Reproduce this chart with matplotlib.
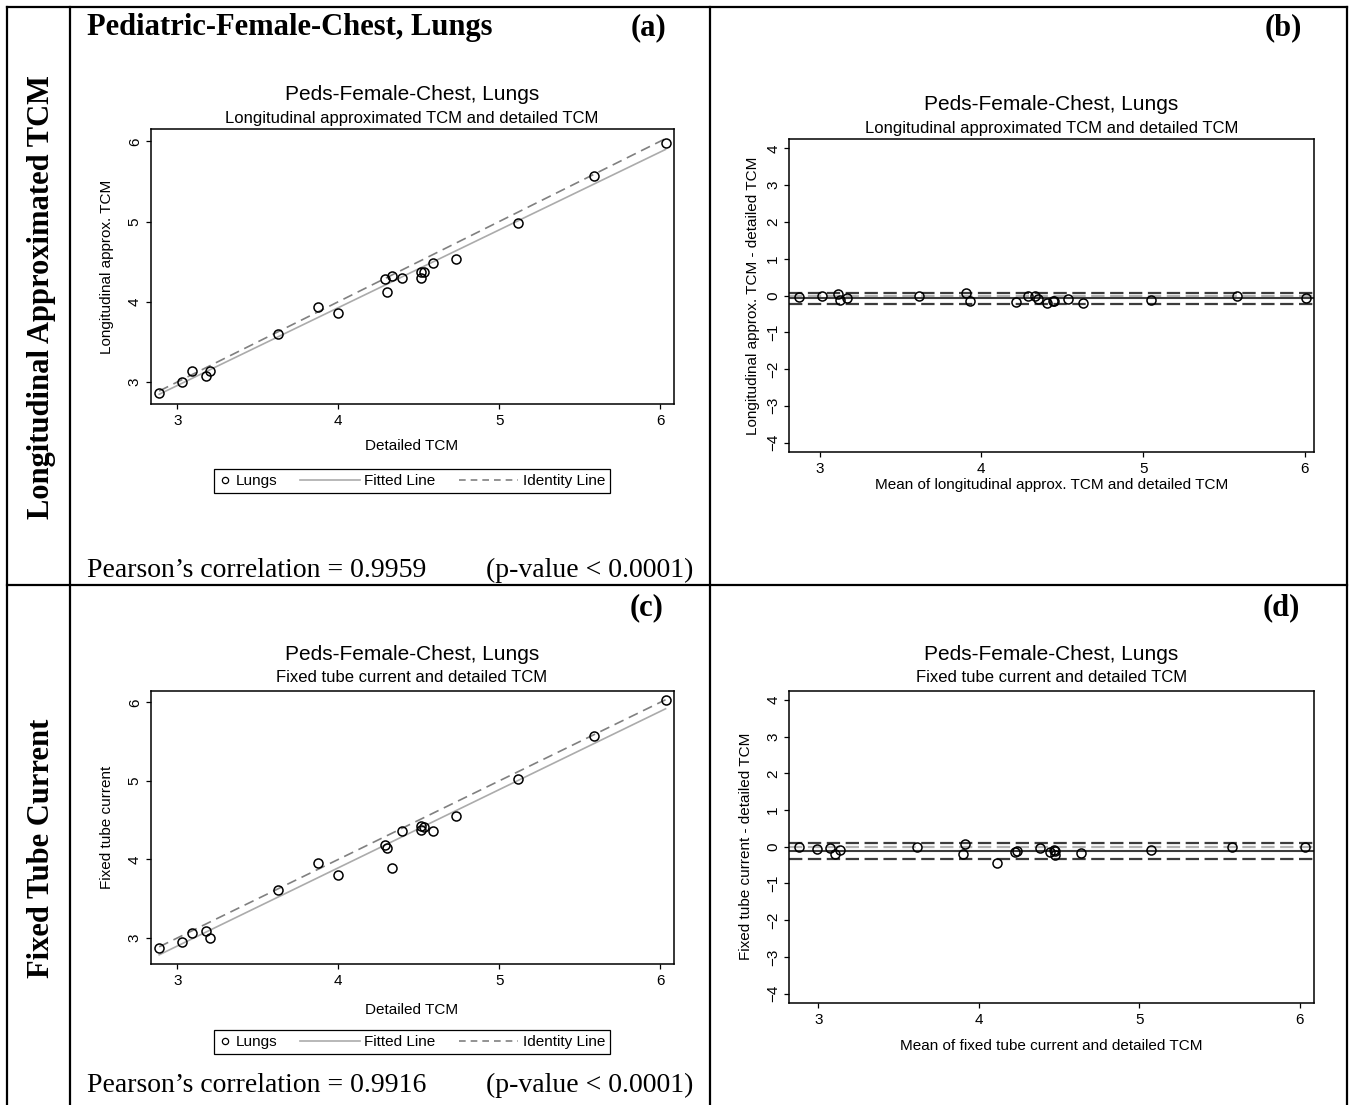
import matplotlib
matplotlib.use("Agg")
import matplotlib.pyplot as plt
import numpy as np
from matplotlib.lines import Line2D
from matplotlib.legend_handler import HandlerLine2D

W, H = 1351, 1105

# values
detailed_tcm = [2.888, 3.029, 3.090, 3.181, 3.202, 3.624, 3.876, 4.000, 4.293, 4.305,
                4.336, 4.398, 4.514, 4.514, 4.531, 4.586, 4.729, 5.119, 5.588, 6.033]
longitudinal_tcm = [2.859, 3.004, 3.141, 3.071, 3.141, 3.603, 3.940, 3.861, 4.281, 4.127,
                    4.322, 4.301, 4.301, 4.368, 4.372, 4.489, 4.530, 4.983, 5.570, 5.977]
fixed_tube = [2.873, 2.953, 3.059, 3.093, 3.004, 3.611, 3.951, 3.798, 4.184, 4.150,
              3.887, 4.362, 4.375, 4.426, 4.417, 4.362, 4.549, 5.025, 5.571, 6.034]

xticks = [3, 4, 5, 6]
ba_yticks = [-4, -3, -2, -1, 0, 1, 2, 3, 4]

SANS = 'Liberation Sans'
SERIF = 'Liberation Serif'
plt.rcParams['font.family'] = SANS
plt.rcParams['axes.linewidth'] = 1.1


def fx(x):
    return x / W


def fy(y):
    return 1 - y / H


def px_box(l, t, r, b):
    return [l / W, 1 - b / H, (r - l) / W, (b - t) / H]


class LongLine(HandlerLine2D):
    # line sample reaching left into the column gap, like Stata's legend
    def get_xdata(self, legend, xdescent, ydescent, width, height, fontsize):
        xdata = np.array([-xdescent - 3.1 * fontsize, -xdescent + width])
        return xdata, xdata[-1:]


def style_axes(ax):
    ax.tick_params(direction='out', length=3.8, width=0.9, labelsize=11, pad=3.5)
    ax.tick_params(axis='y', labelrotation=90, pad=2.5)
    for lab in ax.get_yticklabels():
        lab.set_va('center')


fig = plt.figure(figsize=(W / 100, H / 100), dpi=100)

# table grid
def hline(y, x0, x1):
    fig.add_artist(Line2D([fx(x0), fx(x1)], [fy(y), fy(y)], color='black', lw=1.6))


def vline(x, y0, y1):
    fig.add_artist(Line2D([fx(x), fx(x)], [fy(y0), fy(y1)], color='black', lw=1.6))


hline(7, 7, 1347)
hline(585, 7, 1347)
vline(7, 7, 1105)
vline(70, 7, 1105)
vline(710, 7, 1105)
vline(1347, 7, 1105)


def scatter_panel(box, yvals, ylim, ylabel, subtitle, title_y, xlab_y, leg_y):
    ax = fig.add_axes(px_box(*box))
    x = np.array(detailed_tcm)
    y = np.array(yvals)
    slope, icpt = np.polyfit(x, y, 1)
    xs = np.array([x.min(), x.max()])
    ax.plot(xs, icpt + slope * xs, color='#ababab', lw=1.2, zorder=2)
    ax.plot(xs, xs, color='#808080', lw=1.2, ls=(0, (6, 3.5)), zorder=2)
    ax.plot(x, y, 'o', mfc='none', mec='black', ms=6.5, mew=1.1, zorder=3)
    ax.set_xlim(2.834, 6.083)
    ax.set_ylim(*ylim)
    ax.set_xticks(xticks)
    ax.set_yticks(xticks)
    style_axes(ax)
    cx = (box[0] + box[2]) / 2
    fig.text(fx(cx), fy(title_y), 'Peds-Female-Chest, Lungs', ha='center', va='center', fontsize=15)
    fig.text(fx(cx), fy(title_y + 24), subtitle, ha='center', va='center', fontsize=12)
    fig.text(fx(cx), fy(xlab_y), 'Detailed TCM', ha='center', va='center', fontsize=11)
    fig.text(fx(107), fy((box[1] + box[3]) / 2), ylabel, ha='center', va='center',
             rotation=90, fontsize=11)
    h_pts = Line2D([], [], marker='o', ls='none', mfc='none', mec='black', ms=4.5, mew=0.9)
    h_fit = Line2D([], [], color='#ababab', lw=1.2)
    h_id = Line2D([], [], color='#808080', lw=1.2, ls=(0, (4, 3)))
    ax.legend([h_pts, h_fit, h_id], ['Lungs', 'Fitted Line', 'Identity Line'],
              loc='center', bbox_to_anchor=(fx(412), fy(leg_y)), bbox_transform=fig.transFigure,
              ncol=3, fontsize=11, frameon=True, fancybox=False, edgecolor='black',
              framealpha=1, handlelength=0.8, handletextpad=0.3, columnspacing=4.6,
              borderpad=0.35, numpoints=1,
              handler_map={h_fit: LongLine(), h_id: LongLine()}).get_frame().set_linewidth(0.9)
    return ax


def ba_panel(box, yvals, xlim, ylabel, xlabel, subtitle, title_y, xlab_y, ylab_x):
    ax = fig.add_axes(px_box(*box))
    a = np.array(yvals)
    d = np.array(detailed_tcm)
    mean = (a + d) / 2
    diff = a - d
    md = diff.mean()
    sd = diff.std(ddof=1)
    dash = (0, (6, 2.5))
    ax.axhline(md + 1.96 * sd, color='#3c3c3c', lw=1.6, ls=dash, zorder=2)
    ax.axhline(0, color='#b4b4b4', lw=1.6, ls=dash, zorder=2)
    ax.axhline(md, color='#3c3c3c', lw=1.5, zorder=2)
    ax.axhline(md - 1.96 * sd, color='#3c3c3c', lw=1.6, ls=dash, zorder=2)
    ax.plot(mean, diff, 'o', mfc='none', mec='black', ms=6.5, mew=1.1, zorder=3)
    ax.set_xlim(*xlim)
    ax.set_ylim(-4.25, 4.25)
    ax.set_xticks(xticks)
    ax.set_yticks(ba_yticks)
    style_axes(ax)
    cx = (box[0] + box[2]) / 2
    fig.text(fx(cx), fy(title_y), 'Peds-Female-Chest, Lungs', ha='center', va='center', fontsize=15)
    fig.text(fx(cx), fy(title_y + 24), subtitle, ha='center', va='center', fontsize=12)
    fig.text(fx(cx), fy(xlab_y), xlabel, ha='center', va='center', fontsize=11)
    fig.text(fx(ylab_x), fy((box[1] + box[3]) / 2), ylabel, ha='center', va='center',
             rotation=90, fontsize=11)
    return ax


# (a) longitudinal approx vs detailed
scatter_panel((150.5, 129, 673.6, 404), longitudinal_tcm, (2.726, 6.153),
              'Longitudinal approx. TCM', 'Longitudinal approximated TCM and detailed TCM',
              94, 446, 481)
# (c) fixed tube current vs detailed
scatter_panel((150.5, 690.7, 673.6, 964), fixed_tube, (2.669, 6.148),
              'Fixed tube current', 'Fixed tube current and detailed TCM',
              654, 1010, 1042)
# (b) Bland-Altman, longitudinal
ba_panel((789, 139.3, 1314, 451.7), longitudinal_tcm, (2.811, 6.056),
         'Longitudinal approx. TCM - detailed TCM',
         'Mean of longitudinal approx. TCM and detailed TCM',
         'Longitudinal approximated TCM and detailed TCM', 104, 485, 753)
# (d) Bland-Altman, fixed
ba_panel((789, 690.7, 1314, 1002.7), fixed_tube, (2.817, 6.088),
         'Fixed tube current - detailed TCM',
         'Mean of fixed tube current and detailed TCM',
         'Fixed tube current and detailed TCM', 654, 1046, 746)

# serif annotations of the table
bold = dict(family=SERIF, fontweight='bold', fontsize=22, va='center')
fig.text(fx(87), fy(28), 'Pediatric-Female-Chest, Lungs', ha='left', **bold)
fig.text(fx(648), fy(28), '(a)', ha='center', **bold)
fig.text(fx(1283), fy(28), '(b)', ha='center', **bold)
fig.text(fx(647), fy(608), '(c)', ha='center', **bold)
fig.text(fx(1281), fy(608), '(d)', ha='center', **bold)
fig.text(fx(42), fy(297), 'Longitudinal Approximated TCM', ha='center', rotation=90, **bold)
fig.text(fx(42), fy(848), 'Fixed Tube Current', ha='center', rotation=90, **bold)

reg = dict(family=SERIF, fontsize=20, va='center')
fig.text(fx(87), fy(570), 'Pearson\u2019s correlation = 0.9959', ha='left', **reg)
fig.text(fx(693), fy(570), '(p-value < 0.0001)', ha='right', **reg)
fig.text(fx(87), fy(1085), 'Pearson\u2019s correlation = 0.9916', ha='left', **reg)
fig.text(fx(693), fy(1085), '(p-value < 0.0001)', ha='right', **reg)

fig.savefig('out.png', dpi=100, facecolor='white')
